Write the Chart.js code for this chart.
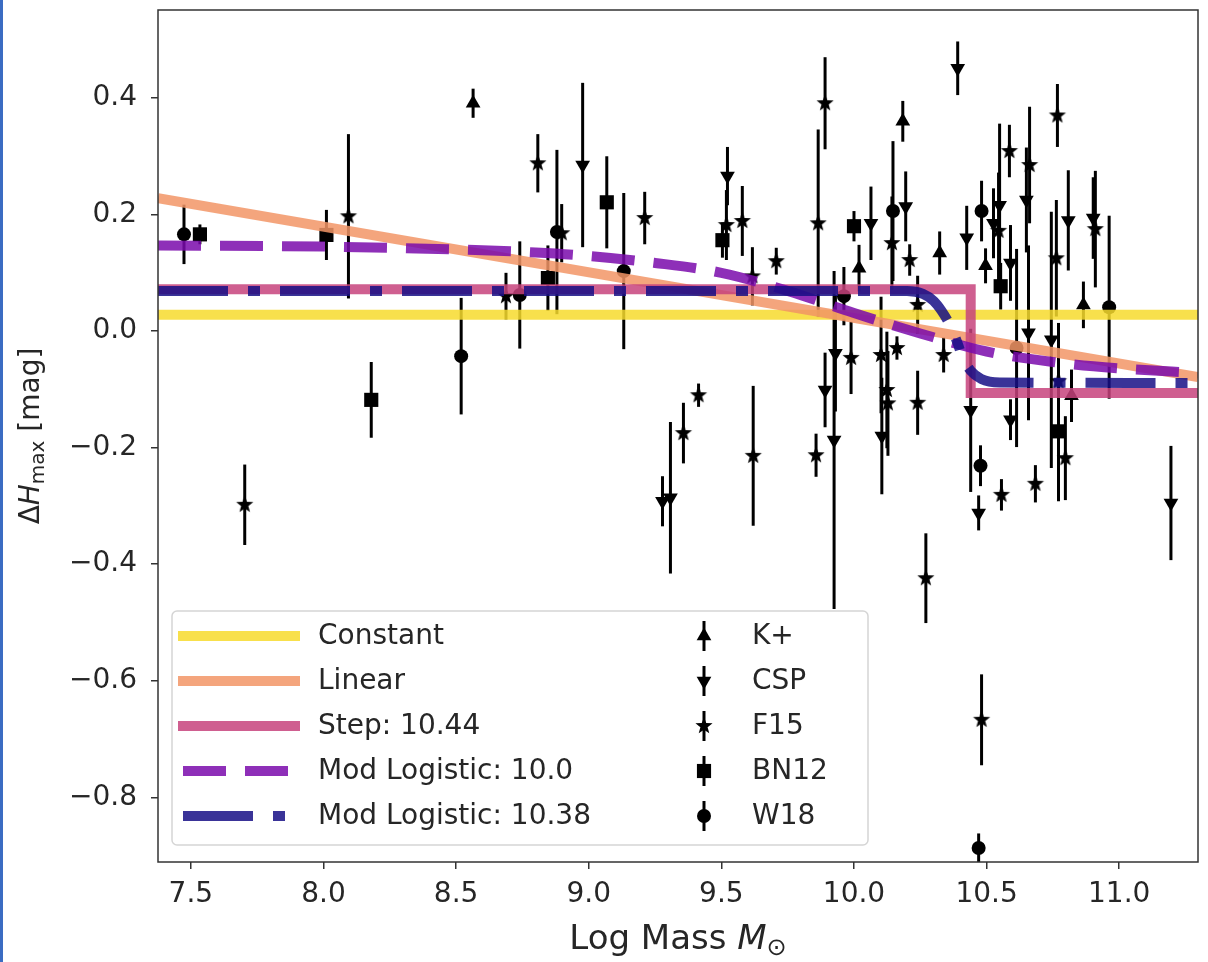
<!DOCTYPE html>
<html>
<head>
<meta charset="utf-8">
<script src="https://cdn.jsdelivr.net/npm/chart.js@4.4.0/dist/chart.umd.min.js"></script>
<style>
  html, body { margin: 0; padding: 0; background: #fff; }
  #wrap { position: relative; width: 1208px; height: 962px; }
  #edge { position: absolute; left: 0; top: 0; width: 3px; height: 962px; background: #3b6cc2; }
</style>
</head>
<body>
<div id="wrap"><canvas id="chart" width="1208" height="962"></canvas><div id="edge"></div></div>
<script>
// axis ranges / ticks
const xRange = [7.376, 11.297];
const yRange = [-0.911, 0.551];
const xTicks = [7.5, 8.0, 8.5, 9.0, 9.5, 10.0, 10.5, 11.0];
const yTicks = [-0.8, -0.6, -0.4, -0.2, 0.0, 0.2, 0.4];

// survey points: [log mass, delta H, error]
const kplus = [
  [8.564, 0.391, 0.025], [10.019, 0.108, 0.04], [10.184, 0.360, 0.035], [10.323, 0.134, 0.037],
  [10.496, 0.112, 0.03], [10.865, 0.045, 0.04], [10.82, -0.111, 0.045],
];
const csp = [
  [8.977, 0.285, 0.141], [9.278, -0.292, 0.043], [9.308, -0.286, 0.13], [9.523, 0.266, 0.05],
  [9.891, -0.101, 0.064], [9.93, -0.038, 0.1], [9.925, -0.187, 0.29], [10.064, 0.185, 0.063],
  [10.105, -0.18, 0.1], [10.195, 0.214, 0.06], [10.391, 0.451, 0.046], [10.425, 0.16, 0.055],
  [10.44, -0.136, 0.14], [10.47, -0.312, 0.03], [10.526, 0.185, 0.06], [10.549, 0.216, 0.14],
  [10.59, 0.117, 0.065], [10.59, -0.152, 0.035], [10.65, 0.225, 0.09], [10.658, -0.003, 0.15],
  [10.744, -0.015, 0.22], [10.808, 0.19, 0.086], [10.902, 0.194, 0.07], [11.195, -0.295, 0.098],
];
const f15 = [
  [7.703, -0.298, 0.069], [8.094, 0.197, 0.141], [8.688, 0.06, 0.04], [8.808, 0.288, 0.05],
  [8.898, 0.168, 0.05], [9.211, 0.194, 0.045], [9.357, -0.175, 0.052], [9.414, -0.11, 0.02],
  [9.519, 0.182, 0.06], [9.579, 0.189, 0.06], [9.617, 0.094, 0.05], [9.62, -0.214, 0.12],
  [9.707, 0.12, 0.023], [9.857, -0.213, 0.037], [9.865, 0.185, 0.161], [9.891, 0.391, 0.079],
  [9.989, -0.046, 0.062], [10.102, -0.041, 0.1], [10.124, -0.101, 0.1], [10.128, -0.124, 0.09],
  [10.143, 0.151, 0.08], [10.162, -0.029, 0.02], [10.21, 0.122, 0.027], [10.24, 0.045, 0.05],
  [10.24, -0.123, 0.055], [10.271, -0.424, 0.077], [10.338, -0.041, 0.03], [10.481, -0.667, 0.078],
  [10.545, 0.172, 0.1], [10.556, -0.281, 0.027], [10.586, 0.309, 0.045], [10.662, 0.285, 0.1],
  [10.684, -0.262, 0.032], [10.763, 0.125, 0.1], [10.767, 0.37, 0.054], [10.771, -0.086, 0.1],
  [10.797, -0.218, 0.072], [10.91, 0.175, 0.1],
];
const bn12 = [
  [7.534, 0.166, 0.017], [8.011, 0.165, 0.043], [8.18, -0.118, 0.065], [8.846, 0.091, 0.056],
  [9.068, 0.221, 0.079], [9.504, 0.156, 0.03], [10.0, 0.18, 0.026], [10.553, 0.077, 0.04],
  [10.771, -0.172, 0.12],
];
const w18 = [
  [7.474, 0.166, 0.051], [8.519, -0.043, 0.1], [8.74, 0.062, 0.092], [8.88, 0.17, 0.141],
  [9.132, 0.103, 0.134], [9.962, 0.06, 0.05], [10.147, 0.206, 0.12], [10.477, -0.231, 0.035],
  [10.481, 0.206, 0.052], [10.613, -0.029, 0.17], [10.962, 0.041, 0.157], [10.47, -0.887, 0.025],
];

// fitted models
const constantFit = [[7.376, 0.028], [11.297, 0.028]];
const linearFit = [[7.376, 0.228], [11.297, -0.079]];
const stepFit = [[7.376, 0.072], [10.44, 0.072], [10.44, -0.106], [11.297, -0.106]];
const logistic100 = [
  [7.376, 0.147], [8.0, 0.145], [8.5, 0.140], [8.8, 0.135], [9.0, 0.129], [9.25, 0.117],
  [9.5, 0.100], [9.75, 0.069], [10.0, 0.031], [10.25, -0.004], [10.5, -0.035], [10.75, -0.053],
  [11.0, -0.064], [11.297, -0.072],
];
const logistic1038 = [
  [7.376, 0.069], [10.2, 0.069], [10.26, 0.064], [10.3, 0.052], [10.33, 0.035], [10.36, 0.012],
  [10.39, -0.02], [10.41, -0.046], [10.44, -0.068], [10.48, -0.082], [10.55, -0.088], [11.297, -0.089],
];

const FONT = '"DejaVu Sans", sans-serif';
const TXT = '#262626';
const FS = 28;

function starImage(r) {
  const c = document.createElement('canvas');
  const s = Math.ceil(r * 2 + 2);
  c.width = c.height = s;
  const g = c.getContext('2d');
  g.fillStyle = '#000';
  g.beginPath();
  for (let i = 0; i < 10; i++) {
    const a = -Math.PI / 2 + i * Math.PI / 5;
    const rr = i % 2 ? r * 0.42 : r;
    g.lineTo(s / 2 + rr * Math.cos(a), s / 2 + rr * Math.sin(a));
  }
  g.closePath();
  g.fill();
  return c;
}

const fit = (label, pts, color, dash, smooth) => ({
  label,
  data: pts.map(([x, y]) => ({ x, y })),
  showLine: true,
  borderColor: color,
  backgroundColor: color,
  borderWidth: 10,
  borderDash: dash || [],
  borderCapStyle: 'butt',
  pointRadius: 0,
  cubicInterpolationMode: smooth ? 'monotone' : 'default',
  isFit: true,
});
const survey = (label, pts, style, radius, rotation) => ({
  label,
  data: pts.map(([x, y, e]) => ({ x, y, e })),
  pointStyle: style,
  pointRadius: radius,
  pointRotation: rotation || 0,
  backgroundColor: '#000',
  borderColor: '#000',
  borderWidth: 0,
  showLine: false,
});

// index 0 is drawn on top in Chart.js
const datasets = [
  fit('Mod Logistic: 10.38', logistic1038, 'rgba(24,15,134,0.85)', [70, 20, 12, 20], true),
  fit('Mod Logistic: 10.0', logistic100, 'rgba(122,11,172,0.85)', [43, 19], true),
  fit('Step: 10.44', stepFit, 'rgba(199,67,124,0.85)'),
  fit('Linear', linearFit, 'rgba(242,149,102,0.85)'),
  fit('Constant', constantFit, 'rgba(247,219,45,0.85)'),
  survey('K+', kplus, 'triangle', 8.5),
  survey('CSP', csp, 'triangle', 8.5, 180),
  survey('F15', f15, starImage(9)),
  survey('BN12', bn12, 'rect', 10),
  survey('W18', w18, 'circle', 7),
];

const errorBars = {
  id: 'errorBars',
  beforeDatasetsDraw(chart) {
    const { ctx, scales: { x, y } } = chart;
    ctx.save();
    ctx.beginPath();
    ctx.rect(chart.chartArea.left, chart.chartArea.top, chart.chartArea.width, chart.chartArea.height);
    ctx.clip();
    ctx.strokeStyle = '#000';
    ctx.lineWidth = 3;
    chart.data.datasets.forEach(ds => {
      if (ds.isFit) return;
      ds.data.forEach(p => {
        const px = x.getPixelForValue(p.x);
        ctx.beginPath();
        ctx.moveTo(px, y.getPixelForValue(p.y - p.e));
        ctx.lineTo(px, y.getPixelForValue(p.y + p.e));
        ctx.stroke();
      });
    });
    ctx.restore();
  },
};

function drawPieces(ctx, pieces, cx, cy) {
  let total = 0;
  pieces.forEach(p => { ctx.font = p.f; p.w = ctx.measureText(p.t).width; total += p.w; });
  let xx = cx - total / 2;
  ctx.textBaseline = 'middle';
  ctx.textAlign = 'left';
  pieces.forEach(p => { ctx.font = p.f; ctx.fillText(p.t, xx, cy + (p.dy || 0)); xx += p.w; });
}

const frameAndTitles = {
  id: 'frameAndTitles',
  afterDatasetsDraw(chart) {
    const { ctx, chartArea: a } = chart;
    ctx.save();
    ctx.strokeStyle = '#333';
    ctx.lineWidth = 1.5;
    ctx.strokeRect(a.left, a.top, a.width, a.height);
    ctx.fillStyle = TXT;
    drawPieces(ctx, [
      { t: 'Log Mass ', f: '34px ' + FONT }, { t: 'M', f: 'italic 34px ' + FONT },
      { t: '\u2299', f: '24px ' + FONT, dy: 9 },
    ], (a.left + a.right) / 2, 940);
    ctx.translate(32, (a.top + a.bottom) / 2);
    ctx.rotate(-Math.PI / 2);
    drawPieces(ctx, [
      { t: '\u0394', f: FS + 'px ' + FONT }, { t: 'H', f: 'italic ' + FS + 'px ' + FONT },
      { t: 'max', f: '20px ' + FONT, dy: 7 }, { t: ' [mag]', f: FS + 'px ' + FONT },
    ], 0, 0);
    ctx.restore();
  },
};

const boxLegend = {
  id: 'boxLegend',
  afterDraw(chart) {
    const { ctx, chartArea: a } = chart;
    const bx = a.left + 14, bw = 696, bh = 234, by = a.bottom - 17 - bh;
    const rowH = 45, firstRow = by + 25;
    ctx.save();
    ctx.beginPath();
    ctx.roundRect(bx, by, bw, bh, 5);
    ctx.fillStyle = 'rgba(255,255,255,0.85)';
    ctx.fill();
    ctx.strokeStyle = '#d5d5d5';
    ctx.lineWidth = 1.5;
    ctx.stroke();

    const fits = chart.data.datasets.filter(d => d.isFit).reverse();
    const pts = chart.data.datasets.filter(d => !d.isFit);
    ctx.font = FS + 'px ' + FONT;
    ctx.textBaseline = 'middle';
    ctx.textAlign = 'left';
    fits.forEach((d, i) => {
      const yy = firstRow + i * rowH;
      ctx.beginPath();
      ctx.setLineDash(d.borderDash);
      ctx.lineCap = d.borderDash.length ? 'butt' : 'square';
      ctx.strokeStyle = d.borderColor;
      ctx.lineWidth = 10;
      ctx.moveTo(bx + 11, yy);
      ctx.lineTo(bx + 123, yy);
      ctx.stroke();
      ctx.setLineDash([]);
      ctx.fillStyle = TXT;
      ctx.fillText(d.label, bx + 146, yy + 1);
    });
    pts.forEach((d, i) => {
      const yy = firstRow + i * rowH;
      const mx = bx + 532;
      ctx.strokeStyle = '#000';
      ctx.lineWidth = 3;
      ctx.beginPath();
      ctx.moveTo(mx, yy - 15);
      ctx.lineTo(mx, yy + 15);
      ctx.stroke();
      ctx.fillStyle = '#000';
      Chart.helpers.drawPoint(ctx, {
        pointStyle: d.pointStyle, radius: d.pointRadius, rotation: d.pointRotation, borderWidth: 0,
      }, mx, yy);
      ctx.fillStyle = TXT;
      ctx.fillText(d.label, bx + 580, yy + 1);
    });
    ctx.restore();
  },
};

const fmt = v => {
  if (Math.abs(v) < 1e-9) return '0.0';
  return (v < 0 ? '\u2212' : '') + Math.abs(v).toFixed(1);
};

new Chart(document.getElementById('chart'), {
  type: 'scatter',
  data: { datasets },
  options: {
    responsive: false,
    animation: false,
    layout: { padding: { top: 8, right: 8, left: 0, bottom: 0 } },
    plugins: { legend: { display: false }, tooltip: { enabled: false } },
    scales: {
      x: {
        type: 'linear',
        min: xRange[0],
        max: xRange[1],
        afterBuildTicks: s => { s.ticks = xTicks.map(value => ({ value })); },
        afterFit: s => { s.height = 100; s.paddingLeft = 0; s.paddingRight = 0; },
        grid: { drawOnChartArea: false, drawTicks: true, tickLength: 7, color: '#333', lineWidth: 1.5 },
        border: { display: false },
        ticks: { color: TXT, font: { family: FONT, size: FS }, padding: 9, callback: v => fmt(v) },
      },
      y: {
        type: 'linear',
        min: yRange[0],
        max: yRange[1],
        afterBuildTicks: s => { s.ticks = yTicks.map(value => ({ value })); },
        afterFit: s => { s.width = 158; s.paddingTop = 0; s.paddingBottom = 0; },
        grid: { drawOnChartArea: false, drawTicks: true, tickLength: 7, color: '#333', lineWidth: 1.5 },
        border: { display: false },
        ticks: { color: TXT, font: { family: FONT, size: FS }, padding: 14, callback: v => fmt(v) },
      },
    },
  },
  plugins: [errorBars, frameAndTitles, boxLegend],
});
</script>
</body>
</html>
